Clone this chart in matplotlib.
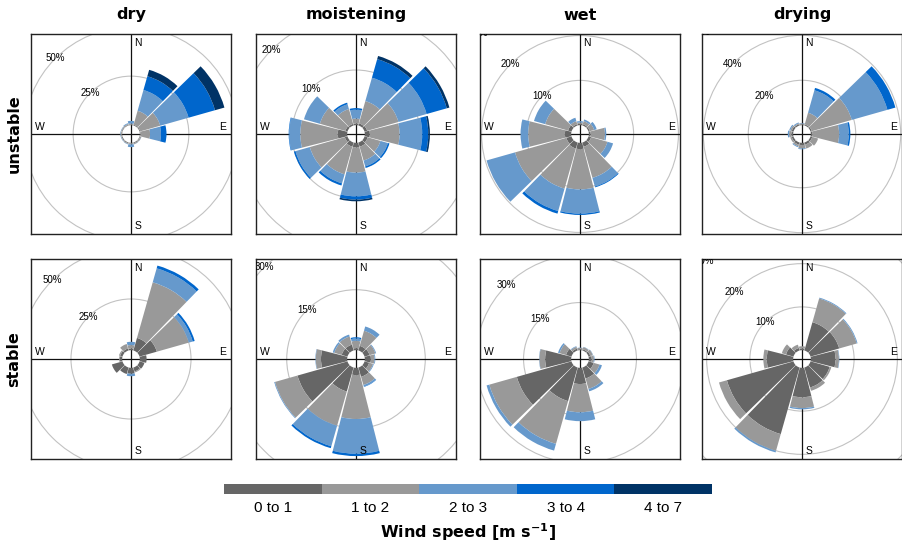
import numpy as np
import matplotlib.pyplot as plt
from matplotlib.patches import Wedge, Circle

# wind direction sectors (deg, clockwise from north)
directions = np.arange(0, 360, 30)
speed_bins = ['0 to 1', '1 to 2', '2 to 3', '3 to 4', '4 to 7']
bin_colors = ['#666666', '#999999', '#6699CC', '#0066CC', '#003366']
conditions = ['dry', 'moistening', 'wet', 'drying']
stability = ['unstable', 'stable']

# grid circle spacing (%) per panel
grid_unstable = [25, 10, 10, 20]
grid_stable = [25, 15, 15, 10]

# cumulative frequency (%) per sector, columns = speed bins 0-1 .. 4-7
dry_unstable = [
    [0.3, 0.8, 2.2], [0.4, 7.8, 18.8, 26.1, 29.5], [0.4, 11.0, 26.0, 40.0, 45.0],
    [0.3, 5.2, 10.8, 13.6], [0.3, 0.9, 1.0], [0.4, 0.9, 1.0],
    [0.3, 0.8, 2.2], [0.4, 0.8, 1.0], [0.4, 0.7, 0.9],
    [0.3, 0.8, 1.0], [0.3, 0.7, 0.9], [0.3, 0.8, 1.2]]
moistening_unstable = [
    [0.3, 1.2, 2.8, 3.1], [0.4, 4.6, 9.0, 12.5, 13.1], [0.5, 6.4, 11.7, 15.5, 16.0],
    [0.9, 6.3, 10.4, 11.5, 11.8], [0.6, 3.0, 4.4, 4.7], [0.8, 3.4, 4.5, 4.8],
    [0.8, 5.4, 9.7, 10.3, 10.6], [0.8, 6.0, 7.7, 8.1], [0.5, 7.1, 9.8, 10.1],
    [1.7, 8.5, 10.5, 10.6], [0.4, 5.2, 8.2], [0.3, 3.1, 4.0, 4.3]]
wet_unstable = [
    [0.3, 0.6, 0.9], [0.3, 1.0, 1.4], [0.3, 1.3, 1.9],
    [0.4, 3.6, 3.9], [0.6, 4.4, 5.7], [1.0, 8.2, 10.2, 10.4],
    [1.4, 10.4, 15.8, 16.1], [1.4, 10.7, 15.9, 16.5], [1.2, 13.1, 19.7],
    [1.4, 9.6, 11.3], [0.8, 6.1, 8.7], [0.3, 1.0, 1.8]]
drying_unstable = [
    [0.4, 0.8, 1.0], [0.5, 5.9, 16.3, 17.4], [0.6, 19.1, 35.6, 39.3],
    [0.6, 12.6, 16.9, 17.6], [0.8, 3.5], [1.0, 2.8],
    [1.0, 2.5, 2.9], [1.0, 1.8, 2.2], [0.8, 1.5],
    [0.8, 1.8, 2.4], [0.8, 1.5, 2.0], [0.6, 1.0, 1.4]]
dry_stable = [
    [0.8, 2.5, 4.1], [6.4, 34.6, 41.7, 43.1], [8.8, 25.0, 27.0, 28.0],
    [3.3], [2.5], [2.0, 2.5],
    [2.9, 2.9, 4.1], [3.3], [5.4],
    [1.1, 1.5], [1.2, 1.8], [1.0, 3.3]]
moistening_stable = [
    [0.5, 2.3, 2.9, 3.2], [1.2, 5.1, 6.2], [1.3, 2.8, 3.0],
    [1.5, 2.4, 2.6], [1.2, 2.2, 2.4], [2.4, 4.5, 4.9, 5.0],
    [1.8, 12.7, 21.3, 21.9], [6.2, 15.0, 20.3, 20.8], [12.9, 18.7, 18.9],
    [6.5, 7.8, 7.9], [1.5, 3.4, 3.8], [1.5, 3.6, 4.1]]
wet_stable = [
    [0.3, 0.7, 0.8], [0.4, 1.1, 1.2], [0.6, 1.4, 1.5],
    [0.9, 1.6, 1.8], [1.7, 3.6, 4.4], [3.6, 7.0, 7.8],
    [5.1, 14.0, 16.8], [11.0, 25.0, 27.2], [17.9, 26.9, 27.8],
    [8.2, 10.0, 10.1], [1.8, 3.9, 4.4], [0.6, 1.2, 1.4]]
drying_stable = [
    [0.4, 0.9], [6.8, 12.5, 12.7], [6.9, 11.1, 11.3],
    [5.7, 6.5, 6.6], [4.6, 5.0], [4.8, 5.6],
    [6.8, 9.3, 9.6], [16.0, 20.0, 20.4], [16.0, 17.9],
    [6.1, 6.9], [1.8, 2.8], [0.6, 1.4]]

panels = [[dry_unstable, moistening_unstable, wet_unstable, drying_unstable],
          [dry_stable, moistening_stable, wet_stable, drying_stable]]
grids = [grid_unstable, grid_stable]

W, H = 903, 545
fig = plt.figure(figsize=(W / 100, H / 100), dpi=100)

lefts = [31, 256, 480, 702]
tops = [34, 259]
size = 200
half_width = 14.2  # half angular width of a sector, leaves a thin gap
label_font = 'Liberation Sans'


def wind_rose(ax, cum, step):
    totals = [row[-1] for row in cum]
    max_freq = max(totals)
    off = 0.1 * max_freq
    lim = 1.03 * (max_freq + off)
    ax.set_xlim(-lim, lim)
    ax.set_ylim(-lim, lim)
    ax.set_xticks([])
    ax.set_yticks([])
    for sp in ax.spines.values():
        sp.set_linewidth(1.0)
        sp.set_color('#222222')

    # grid circles and their labels (labels past the corner are left out)
    for k in range(1, 5):
        r = off + k * step
        ax.add_patch(Circle((0, 0), r, fill=False, ec='#c2c2c2', lw=0.8, zorder=1))
        d = r * np.sin(np.pi / 4)
        if d < lim * 1.06:
            ax.text(-d, d, '%d%%' % (k * step), ha='center', va='center', fontsize=7,
                    family=label_font, clip_on=True, zorder=4)

    ax.axhline(0, color='#111111', lw=0.9, zorder=1.5)
    ax.axvline(0, color='#111111', lw=0.9, zorder=1.5)

    for d, row in zip(directions, cum):
        vals = list(row) + [row[-1]] * (5 - len(row))
        start = 0.0
        theta = 90 - d
        for i, v in enumerate(vals):
            if v > start:
                ax.add_patch(Wedge((0, 0), off + v, theta - half_width, theta + half_width,
                                   width=v - start, fc=bin_colors[i], ec='none', zorder=2))
            start = max(start, v)

    kw = dict(fontsize=7.5, family=label_font, transform=ax.transAxes, zorder=5)
    ax.text(0.518, 0.955, 'N', ha='left', va='center', **kw)
    ax.text(0.518, 0.04, 'S', ha='left', va='center', **kw)
    ax.text(0.02, 0.508, 'W', ha='left', va='bottom', **kw)
    ax.text(0.975, 0.508, 'E', ha='right', va='bottom', **kw)


for r in range(2):
    for c in range(4):
        ax = fig.add_axes([lefts[c] / W, 1 - (tops[r] + size) / H, size / W, size / H])
        wind_rose(ax, panels[r][c], grids[r][c])

# column and row headings
for c, name in enumerate(conditions):
    fig.text((lefts[c] + size / 2) / W, 1 - 15 / H, name, ha='center', va='center',
             fontsize=11.5, fontweight='bold', family='DejaVu Sans')
for r, name in enumerate(stability):
    fig.text(14 / W, 1 - (tops[r] + size / 2) / H, name, ha='center', va='center',
             rotation=90, fontsize=11.5, fontweight='bold', family='DejaVu Sans')

# speed key
key = fig.add_axes([224 / W, 1 - 494 / H, 488 / W, 10 / H])
key.bar(np.arange(5), np.ones(5), width=1.0, color=bin_colors)
key.set_xlim(-0.5, 4.5)
key.set_ylim(0, 1)
key.set_yticks([])
key.set_xticks(np.arange(5))
key.set_xticklabels(speed_bins, fontsize=11, family=label_font)
key.tick_params(axis='x', length=0, pad=5)
for sp in key.spines.values():
    sp.set_visible(False)
fig.text(468 / W, 1 - 532 / H, r'Wind speed [m s$^{\mathbf{-1}}$]', ha='center', va='center',
         fontsize=11.5, fontweight='bold', family='DejaVu Sans')

fig.savefig('out.png', dpi=100)
